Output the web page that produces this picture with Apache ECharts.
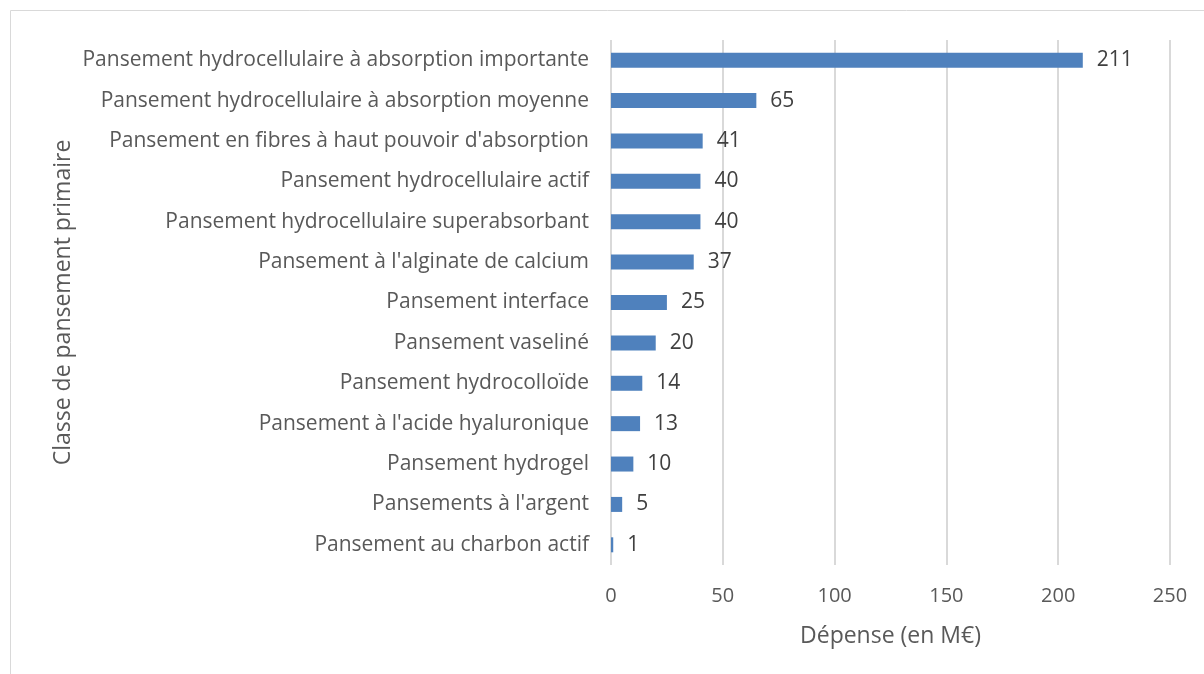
<!DOCTYPE html>
<html>
<head>
<meta charset="utf-8">
<script src="https://cdn.jsdelivr.net/npm/echarts@6/dist/echarts.min.js"></script>
<style>
  html, body { margin: 0; padding: 0; background: #fff; }
  #main { width: 1204px; height: 674px; }
</style>
</head>
<body>
<div id="main"></div>
<script>
// top to bottom as in the picture
var categories = [
  'Pansement hydrocellulaire à absorption importante',
  'Pansement hydrocellulaire à absorption moyenne',
  "Pansement en fibres à haut pouvoir d'absorption",
  'Pansement hydrocellulaire actif',
  'Pansement hydrocellulaire superabsorbant',
  "Pansement à l'alginate de calcium",
  'Pansement interface',
  'Pansement vaseliné',
  'Pansement hydrocolloïde',
  "Pansement à l'acide hyaluronique",
  'Pansement hydrogel',
  "Pansements à l'argent",
  'Pansement au charbon actif'
];
var depense = [211, 65, 41, 40, 40, 37, 25, 20, 14, 13, 10, 5, 1];

var font = '"Open Sans", sans-serif';
var chart = echarts.init(document.getElementById('main'));
chart.setOption({
  animation: false,
  textStyle: { fontFamily: font },
  graphic: [{
    type: 'rect',
    shape: { x: 10.5, y: 10.5, width: 1300, height: 800 },
    style: { fill: 'none', stroke: '#d9d9d9', lineWidth: 1 },
    silent: true
  }],
  grid: { left: 611, right: 34, top: 40, bottom: 109 },
  xAxis: {
    type: 'value',
    min: 0,
    max: 250,
    interval: 50,
    name: 'Dépense (en M€)',
    nameLocation: 'middle',
    nameGap: 60,
    nameTextStyle: { fontSize: 23, color: '#595959', fontFamily: font },
    axisLine: { show: false },
    axisTick: { show: false },
    axisLabel: { fontSize: 20, color: '#595959', margin: 21, fontFamily: font },
    splitLine: { show: true, lineStyle: { color: '#d9d9d9', width: 2 } }
  },
  yAxis: {
    type: 'category',
    data: categories,
    inverse: true,
    name: 'Classe de pansement primaire',
    nameLocation: 'middle',
    nameGap: 536,
    nameTextStyle: { fontSize: 23, color: '#595959', fontFamily: font },
    axisLine: { show: false },
    axisTick: { show: false },
    axisLabel: { fontSize: 21, color: '#595959', margin: 22, fontFamily: font }
  },
  series: [{
    type: 'bar',
    data: depense,
    barWidth: 15,
    itemStyle: { color: '#4f81bd' },
    label: {
      show: true,
      position: 'right',
      distance: 14,
      fontSize: 21,
      color: '#404040',
      fontFamily: font
    }
  }]
});
</script>
</body>
</html>
